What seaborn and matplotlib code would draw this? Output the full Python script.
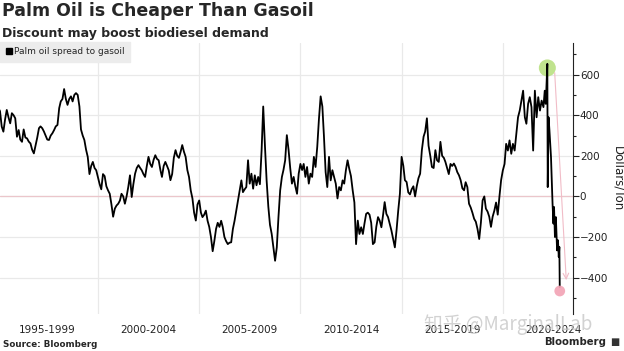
import matplotlib
matplotlib.use("Agg")
import matplotlib.pyplot as plt
import matplotlib.dates as mdates
from matplotlib.lines import Line2D
from matplotlib.ticker import FixedLocator, MultipleLocator
import pandas as pd
import seaborn as sns

title = "Palm Oil is Cheaper Than Gasoil"
subtitle = "Discount may boost biodiesel demand"
series_name = "Palm oil spread to gasoil"
y_label = "Dollars/Ton"
period_labels = ["1995-1999", "2000-2004", "2005-2009", "2010-2014", "2015-2019", "2020-2024"]

# monthly spread (USD/ton), Jan 1995 - Dec 2021
spread_1995_1999 = [
    440, 435, 420, 344, 319, 380, 426, 390, 360, 410, 400, 385,
    294, 327, 280, 269, 330, 290, 286, 270, 261, 230, 212, 250,
    290, 336, 345, 336, 320, 300, 280, 278, 300, 311, 327, 345,
    352, 435, 468, 480, 529, 480, 451, 480, 493, 468, 500, 509,
    500, 443, 330, 300, 278, 230, 195, 110, 150, 170, 140, 129,
]
spread_2000_2004 = [
    95, 60, 35, 110, 100, 50, 30, 13, -40, -100, -60, -45,
    -36, -20, 13, 0, -36, 0, 46, 104, -3, 60, 112, 140,
    154, 140, 129, 110, 96, 150, 195, 160, 145, 180, 203, 185,
    178, 130, 96, 150, 170, 150, 129, 80, 110, 190, 228, 200,
    190, 220, 253, 220, 195, 130, 96, 30, -10, -80, -119, -40,
]
spread_2005_2009 = [
    -20, -80, -102, -90, -70, -120, -150, -200, -270, -220, -160, -130,
    -150, -120, -150, -200, -220, -235, -228, -226, -160, -120, -70, -20,
    30, 79, 21, 35, 46, 178, 63, 112, 38, 104, 55, 96,
    60, 228, 443, 250, 80, -50, -140, -185, -251, -317, -251, -102,
    30, 96, 130, 178, 302, 230, 140, 63, 96, 50, 13, 112,
]
spread_2010_2014 = [
    160, 130, 160, 96, 145, 63, 112, 96, 195, 145, 245, 380,
    493, 443, 300, 120, 46, 195, 79, 129, 96, 63, -10, 46,
    30, 79, 63, 130, 178, 135, 100, 30, -30, -235, -119, -185,
    -152, -185, -135, -86, -80, -90, -130, -235, -226, -150, -102, -119,
    -152, -90, -28, -86, -102, -135, -168, -210, -251, -168, -69, 13,
]
spread_2015_2019 = [
    195, 150, 80, 71, 20, 10, 35, 50, 0, 50, 90, 112,
    228, 294, 320, 385, 250, 200, 145, 140, 228, 178, 170, 269,
    200, 190, 170, 140, 110, 160, 150, 162, 145, 120, 104, 80,
    40, 30, 70, 46, -36, -55, -80, -110, -125, -160, -210, -130,
    -20, 0, -60, -75, -100, -150, -100, -70, -30, -90, 0, 80,
]
spread_2020_2021 = [
    128, 160, 259, 226, 276, 210, 259, 226, 308, 390, 423, 472,
    521, 390, 358, 456, 489, 440, 226, 521, 390, 489, 423, 472,
]
# 2022 moves fast, so it is read at a finer step
dates_2022 = [
    "2022-01-03", "2022-01-26", "2022-02-14", "2022-03-07", "2022-03-14",
    "2022-03-21", "2022-04-05", "2022-04-21", "2022-05-19", "2022-06-16",
    "2022-07-02", "2022-07-13", "2022-07-29", "2022-08-15", "2022-09-06",
    "2022-09-22", "2022-10-06", "2022-10-17", "2022-10-24",
]
spread_2022 = [
    440, 521, 456, 603, 653,
    46, 390, 325, 194, -36,
    -134, -52, -200, -102, -266,
    -216, -298, -249, -446,
]

monthly = (spread_1995_1999 + spread_2000_2004 + spread_2005_2009
           + spread_2010_2014 + spread_2015_2019 + spread_2020_2021)
df = pd.concat([
    pd.DataFrame({"date": pd.date_range("1995-01-01", periods=len(monthly), freq="MS"),
                  "spread": monthly}),
    pd.DataFrame({"date": pd.to_datetime(dates_2022), "spread": spread_2022}),
], ignore_index=True)

sns.set_style("white")
plt.rcParams["font.family"] = ["DejaVu Sans", "Noto Sans CJK SC"]

fig = plt.figure(figsize=(6.24, 3.51), dpi=100)
ax = fig.add_axes([0.0, 0.105, 0.918, 0.772])

sns.lineplot(data=df, x="date", y="spread", ax=ax, color="black", linewidth=1.3)

# zero line
ax.axhline(0, color="#ebc6cb", lw=0.9, zorder=1)

# highlight peak and trough
peak = df.loc[df["spread"].idxmax()]
trough = df.loc[df["spread"].idxmin()]
ax.scatter([peak["date"]], [peak["spread"] - 20], s=150, color="#b5df7a", alpha=0.85,
           edgecolor="none", zorder=1)
ax.scatter([trough["date"]], [trough["spread"] - 20], s=60, color="#f2a2b4", alpha=0.9,
           edgecolor="none", zorder=3)
ax.annotate("", xy=(trough["date"] + pd.Timedelta(days=120), trough["spread"] + 20),
            xytext=(peak["date"] + pd.Timedelta(days=130), peak["spread"] - 30),
            arrowprops=dict(arrowstyle="->", color="#f1bcc7", lw=0.8))

ax.set_xlim(pd.Timestamp("1995-03-01"), pd.Timestamp("2023-06-17"))
ax.set_ylim(-580, 755)

# x axis: period labels in the middle of each 5-year block, gridlines at block edges
starts = [int(p.split("-")[0]) for p in period_labels]
mids = [mdates.date2num(pd.Timestamp(f"{s + 2}-07-01")) for s in starts]
ax.xaxis.set_major_locator(FixedLocator(mids))
ax.set_xticklabels(period_labels)
ax.xaxis.set_minor_locator(mdates.YearLocator(5))
ax.tick_params(axis="x", which="both", length=0, pad=8, labelsize=7.5, colors="#222222")
ax.grid(axis="x", which="minor", color="#e9e9e9", lw=0.9)

# y axis on the right
ax.yaxis.tick_right()
ax.yaxis.set_label_position("right")
ax.yaxis.set_major_locator(MultipleLocator(200))
ax.yaxis.set_minor_locator(MultipleLocator(100))
ax.tick_params(axis="y", which="major", direction="out", length=4, width=0.8,
               labelsize=7.5, pad=1, colors="#222222")
ax.tick_params(axis="y", which="minor", direction="out", length=2.5, width=0.8, colors="#222222")
ax.grid(axis="y", which="major", color="#e9e9e9", lw=0.9)
ax.set_axisbelow(True)
ax.set_ylabel(y_label, rotation=270, labelpad=12, fontsize=8.5, color="#222222")
ax.set_xlabel("")

for side in ["left", "top", "bottom"]:
    ax.spines[side].set_visible(False)
ax.spines["right"].set_color("#222222")
ax.spines["right"].set_linewidth(0.8)

handle = Line2D([], [], marker="s", ls="", color="black", markersize=4.5, label=series_name)
leg = ax.legend(handles=[handle], loc="upper left", bbox_to_anchor=(0.0, 1.005),
                frameon=True, fancybox=False, facecolor="#ececec", edgecolor="#ececec",
                framealpha=1, fontsize=6.5, handlelength=0.7, handletextpad=0.3,
                borderpad=0.6, borderaxespad=0)

fig.text(0.004, 0.995, title, fontsize=12.5, fontweight="bold", va="top", ha="left")
fig.text(0.004, 0.922, subtitle, fontsize=9, fontweight="bold", va="top", ha="left")
fig.text(0.005, 0.018, "Source: Bloomberg", fontsize=6.3, fontweight="bold", va="center", ha="left")
fig.text(0.972, 0.026, "Bloomberg", fontsize=7.3, fontweight="bold", va="center", ha="right")
fig.text(0.977, 0.026, "■", fontsize=7, color="#333333", va="center", ha="left")
fig.text(0.68, 0.075, "知乎 @MarginalLab", fontsize=13.5, color="#c4c4c4", alpha=0.75,
         va="center", ha="left", family=["Noto Sans CJK SC", "DejaVu Sans"])

fig.savefig("out.png", dpi=100)
